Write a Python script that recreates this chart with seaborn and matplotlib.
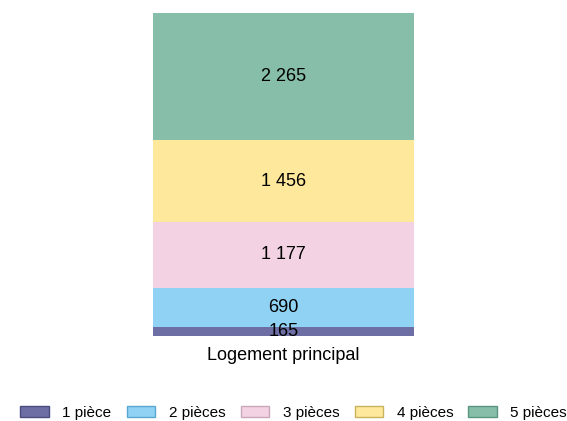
import numpy as np
import pandas as pd
import matplotlib
matplotlib.use("Agg")
import matplotlib.pyplot as plt
from matplotlib.patches import Patch
import seaborn as sns

categories = ["1 pièce", "2 pièces", "3 pièces", "4 pièces", "5 pièces"]
values = [165, 690, 1177, 1456, 2265]
group = "Logement principal"
colors = ["#6c6ea4", "#8fd2f3", "#f3d3e3", "#fee89b", "#87bea9"]
edges = ["#4a4c80", "#5aa8d0", "#c9a7b8", "#c8b35c", "#5a957f"]

sns.set_theme(style="white")
plt.rcParams["font.family"] = ["Liberation Sans", "DejaVu Sans"]

fig = plt.figure(figsize=(5.67, 4.21), dpi=100)
ax = fig.add_axes([153/567, 1-336/421, 261/567, 323/421])

cum = np.cumsum(values)
for i in range(len(values)-1, -1, -1):
    df = pd.DataFrame({"g": [group], "v": [cum[i]]})
    sns.barplot(data=df, x="g", y="v", color=colors[i], width=1.0,
                saturation=1, ax=ax, edgecolor="none", linewidth=0)

bottoms = cum - np.array(values)
for v, b in zip(values, bottoms):
    ax.text(0, b + v/2, f"{v:,}".replace(",", " "), ha="center", va="center",
            fontsize=13, color="black")

ax.set_xlim(-0.5, 0.5)
ax.set_ylim(0, cum[-1])
ax.set_xlabel("")
ax.set_ylabel("")
ax.set_yticks([])
ax.tick_params(axis="x", length=0, pad=8, labelsize=13, labelcolor="black")
for s in ax.spines.values():
    s.set_visible(False)

handles = [Patch(facecolor=c, edgecolor=e, linewidth=1) for c, e in zip(colors, edges)]
fig.legend(handles, categories, loc="center", bbox_to_anchor=(0.518, 1-413/421),
           ncol=5, frameon=False, fontsize=11, handlelength=1.85, handleheight=0.72,
           columnspacing=1.0, handletextpad=0.9, labelcolor="black")

fig.savefig("out.png", dpi=100)
